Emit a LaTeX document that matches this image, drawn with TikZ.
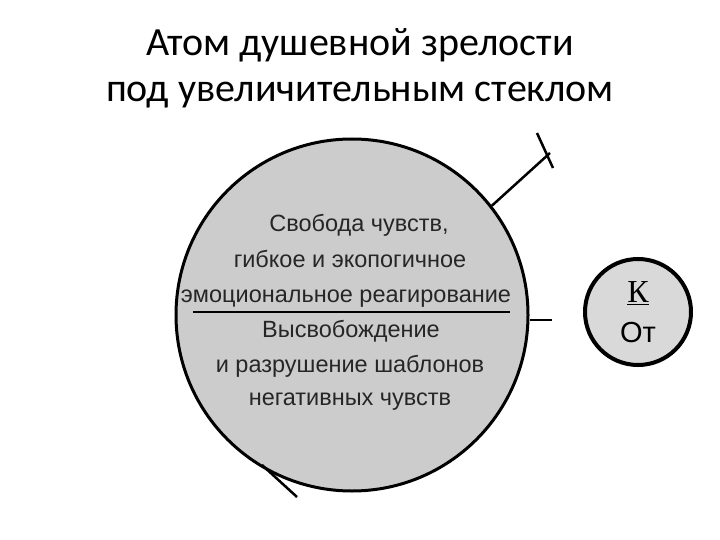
\documentclass[tikz,border=0pt]{standalone}
\usepackage{fontspec}
\setmainfont{Liberation Sans}
\newfontfamily\titlefont{Carlito}
\newfontfamily\serifK{Liberation Serif}
\begin{document}
\begin{tikzpicture}[x=1pt,y=-1pt,
  bigc/.style={circle,draw=black,line width=3pt,fill=black!20,minimum size=352pt,inner sep=0pt},
  smallc/.style={circle,draw=black,line width=4pt,fill=black!15,minimum size=106pt,inner sep=0pt},
  body/.style={font=\fontsize{23.5}{26}\selectfont,text=black!85,inner sep=0pt,anchor=base},
  ttl/.style={font=\titlefont\fontsize{40}{44}\selectfont,inner sep=0pt},
  lnk/.style={line width=2.5pt}]
\useasboundingbox (0,0) rectangle (720,540);
\node[ttl] (t1) at (360,45) {Атом душевной зрелости};
\node[ttl] (t2) at (360,95) {под увеличительным стеклом};
\node[bigc] (big) at (352,315) {};
\node[smallc] (small) at (638,312) {};
\coordinate (d1) at (193,312);
\coordinate (d2) at (510,312);
\draw[lnk] (d1) -- (d2);
\node[body] (a1) at (359,232) {Свобода чувств,};
\node[body] (a2) at (350,267) {гибкое и экопогичное};
\node[body] (a3) at (346,302) {эмоциональное реагирование};
\node[body] (b1) at (351,337) {Высвобождение};
\node[body] (b2) at (350,372) {и разрушение шаблонов};
\node[body] (b3) at (350,405) {негативных чувств};
\node[inner sep=0pt,font=\serifK\fontsize{32}{34}\selectfont] (k) at (638,293) {\underline{К}};
\node[inner sep=0pt,font=\fontsize{29}{30}\selectfont] (ot) at (638,333) {От};
\coordinate (e1) at (550,153);
\coordinate (c1) at (537,133);
\coordinate (c2) at (553,168);
\coordinate (e2) at (552,320);
\coordinate (e3) at (297,497);
\coordinate (s3) at (262,465);
\draw[lnk] (big.38) -- (e1);
\draw[lnk] (c1) -- (c2);
\draw[lnk] (big.east |- e2) -- (e2);
\draw[lnk] (s3) -- (e3);
\end{tikzpicture}
\end{document}
